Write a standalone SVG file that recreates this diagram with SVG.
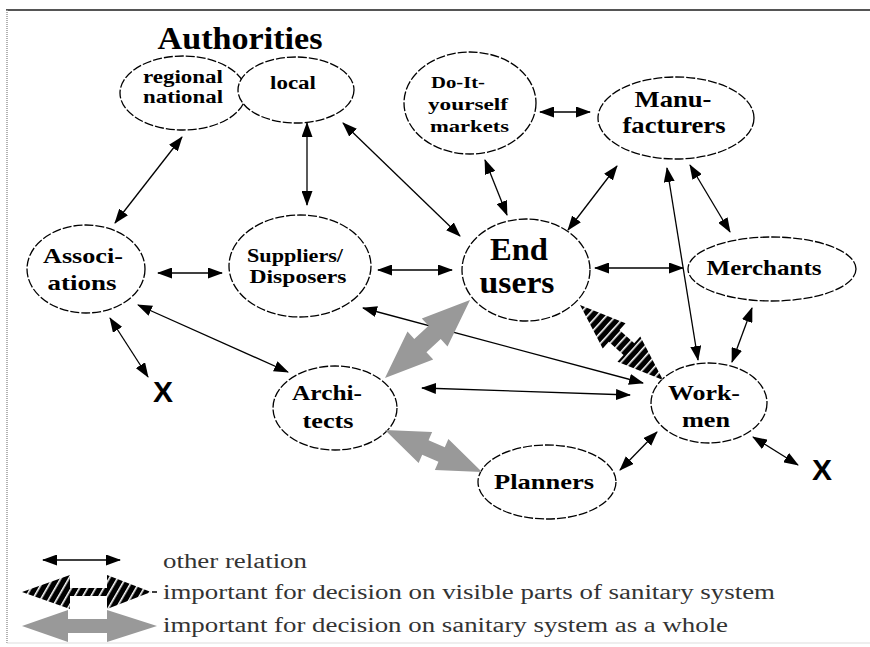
<svg xmlns="http://www.w3.org/2000/svg" width="870" height="647" viewBox="0 0 870 647">
<style>
.node{fill:#fff;stroke:#000;stroke-width:1.3;stroke-dasharray:9 2}
.t{font-family:"Liberation Serif","Times New Roman",serif;font-weight:bold;fill:#000;text-anchor:middle}
.ts{font-family:"Liberation Serif","Times New Roman",serif;font-weight:bold;fill:#000;text-anchor:start}
.lg{font-family:"Liberation Serif","Times New Roman",serif;font-weight:normal;fill:#333;font-size:20px}
.x{font-family:"Liberation Sans",Arial,sans-serif;font-weight:bold;fill:#000;text-anchor:middle;font-size:30px}
.rel{stroke:#000;stroke-width:1.3;fill:none;marker-start:url(#ah);marker-end:url(#ah)}
.gray{fill:#999}
.hatch{fill:url(#stripes)}
</style>
<defs>
<marker id="ah" markerUnits="userSpaceOnUse" markerWidth="15" markerHeight="11" refX="14" refY="5.5" orient="auto-start-reverse">
<path d="M0,0 L15,5.5 L0,11 z" fill="#000"/>
</marker>
<pattern id="stripes" patternUnits="userSpaceOnUse" width="7" height="10">
<rect width="7" height="10" fill="#000"/>
<rect x="5" width="1.6" height="10" fill="#fff"/>
</pattern>
<pattern id="stripes2" patternUnits="userSpaceOnUse" width="7" height="10" patternTransform="rotate(30)">
<rect width="7" height="10" fill="#000"/>
<rect x="5" width="1.6" height="10" fill="#fff"/>
</pattern>
</defs>

<rect width="870" height="647" fill="#fff"/>
<g id="frame">
<line x1="6" y1="10" x2="870" y2="10" stroke="#555" stroke-width="2"/>
<line x1="7" y1="10" x2="7" y2="643" stroke="#999" stroke-width="1.5" stroke-dasharray="1 1"/>
<line x1="7" y1="643" x2="870" y2="643" stroke="#ddd" stroke-width="1"/>
</g>

<g id="authorities">
<text class="t" x="240" y="49" font-size="31" textLength="165" lengthAdjust="spacingAndGlyphs">Authorities</text>
</g>
<g id="regional">
<ellipse class="node" cx="183" cy="93" rx="63" ry="37"/>
<text class="t" x="183" y="83" font-size="18" textLength="80" lengthAdjust="spacingAndGlyphs">regional</text>
<text class="t" x="183" y="103" font-size="18" textLength="80" lengthAdjust="spacingAndGlyphs">national</text>
</g>
<g id="local">
<ellipse class="node" cx="296" cy="90" rx="58" ry="33"/>
<text class="t" x="293" y="89" font-size="18" textLength="46" lengthAdjust="spacingAndGlyphs">local</text>
</g>
<g id="diy">
<ellipse class="node" cx="470" cy="103" rx="66" ry="51"/>
<text class="ts" x="431" y="88" font-size="17" textLength="54" lengthAdjust="spacingAndGlyphs">Do-It-</text>
<text class="ts" x="428" y="110" font-size="17" textLength="80" lengthAdjust="spacingAndGlyphs">yourself</text>
<text class="ts" x="430" y="132" font-size="17" textLength="79" lengthAdjust="spacingAndGlyphs">markets</text>
</g>
<g id="manufacturers">
<ellipse class="node" cx="676" cy="118" rx="78" ry="41"/>
<text class="t" x="673" y="107" font-size="24" textLength="77" lengthAdjust="spacingAndGlyphs">Manu-</text>
<text class="t" x="674" y="133" font-size="24" textLength="103" lengthAdjust="spacingAndGlyphs">facturers</text>
</g>
<g id="merchants">
<ellipse class="node" cx="772" cy="269" rx="84" ry="32"/>
<text class="t" x="764" y="275" font-size="21" textLength="115" lengthAdjust="spacingAndGlyphs">Merchants</text>
</g>
<g id="endusers">
<ellipse class="node" cx="526" cy="270" rx="64" ry="51"/>
<text class="t" x="519" y="260" font-size="32" textLength="58" lengthAdjust="spacingAndGlyphs">End</text>
<text class="t" x="517" y="293" font-size="32" textLength="75" lengthAdjust="spacingAndGlyphs">users</text>
</g>
<g id="suppliers">
<ellipse class="node" cx="300" cy="266" rx="71" ry="51"/>
<text class="t" x="295" y="262" font-size="18" textLength="96" lengthAdjust="spacingAndGlyphs">Suppliers/</text>
<text class="t" x="298" y="283" font-size="18" textLength="97" lengthAdjust="spacingAndGlyphs">Disposers</text>
</g>
<g id="associations">
<ellipse class="node" cx="86" cy="269" rx="59" ry="44"/>
<text class="t" x="83" y="263" font-size="21" textLength="80" lengthAdjust="spacingAndGlyphs">Associ-</text>
<text class="t" x="82" y="290" font-size="21" textLength="69" lengthAdjust="spacingAndGlyphs">ations</text>
</g>
<g id="architects">
<ellipse class="node" cx="335" cy="408" rx="62" ry="42"/>
<text class="t" x="327" y="400" font-size="21" textLength="70" lengthAdjust="spacingAndGlyphs">Archi-</text>
<text class="t" x="328" y="428" font-size="21" textLength="51" lengthAdjust="spacingAndGlyphs">tects</text>
</g>
<g id="workmen">
<ellipse class="node" cx="709" cy="403" rx="58" ry="40"/>
<text class="t" x="704" y="400" font-size="21" textLength="72" lengthAdjust="spacingAndGlyphs">Work-</text>
<text class="t" x="706" y="427" font-size="21" textLength="48" lengthAdjust="spacingAndGlyphs">men</text>
</g>
<g id="planners">
<ellipse class="node" cx="547" cy="482" rx="69" ry="37"/>
<text class="t" x="544" y="489" font-size="21" textLength="100" lengthAdjust="spacingAndGlyphs">Planners</text>
</g>
<g id="x1"><text class="x" x="163" y="402">X</text></g>
<g id="x2"><text class="x" x="822" y="480">X</text></g>

<g id="connectors">
<line class="rel" x1="182" y1="137" x2="115" y2="223"/>
<line class="rel" x1="307" y1="123" x2="307" y2="205"/>
<line class="rel" x1="343" y1="123" x2="460" y2="236"/>
<line class="rel" x1="158" y1="273" x2="222" y2="273"/>
<line class="rel" x1="378" y1="270" x2="452" y2="270"/>
<line class="rel" x1="540" y1="112" x2="590" y2="112"/>
<line class="rel" x1="485" y1="160" x2="507" y2="215"/>
<line class="rel" x1="617" y1="166" x2="568" y2="230"/>
<line class="rel" x1="595" y1="268" x2="683" y2="268"/>
<line class="rel" x1="690" y1="165" x2="730" y2="232"/>
<line class="rel" x1="667" y1="168" x2="698" y2="360"/>
<line class="rel" x1="752" y1="308" x2="732" y2="362"/>
<line class="rel" x1="110" y1="318" x2="148" y2="377"/>
<line class="rel" x1="138" y1="305" x2="288" y2="372"/>
<line class="rel" x1="363" y1="308" x2="643" y2="383"/>
<line class="rel" x1="422" y1="388" x2="630" y2="395"/>
<line class="rel" x1="657" y1="432" x2="620" y2="470"/>
<line class="rel" x1="753" y1="437" x2="798" y2="465"/>
<polygon class="gray" transform="translate(385,378) rotate(-42.54)" points="0,0 48,-19 48,-9 67.4,-9 67.4,-19 115.4,0 67.4,19 67.4,9 48,9 48,19"/>
<polygon class="gray" transform="translate(385,430) rotate(23.41)" points="0,0 44,-17 44,-8 61.7,-8 61.7,-17 105.7,0 61.7,17 61.7,8 44,8 44,17"/>
<polygon class="hatch" transform="translate(580,305) rotate(42.1)" points="0,0 46,-17 46,-8 65.9,-8 65.9,-17 111.9,0 65.9,17 65.9,8 46,8 46,17"/>
</g>

<g id="legend">
<line class="rel" x1="43" y1="560" x2="120" y2="560"/>
<text class="lg" x="163" y="568" textLength="144" lengthAdjust="spacingAndGlyphs">other relation</text>
<polygon fill="url(#stripes2)" points="22,592 70,575 70,588 107,588 107,575 151,592 107,609 107,596 70,596 70,609"/>
<line x1="152" y1="592" x2="157" y2="592" stroke="#000" stroke-width="1.5"/>
<text class="lg" x="163" y="599" textLength="612" lengthAdjust="spacingAndGlyphs">important for decision on visible parts of sanitary system</text>
<polygon class="gray" points="22,626 68,610 68,619 107,619 107,610 157,626 107,642 107,633 68,633 68,642"/>
<text class="lg" x="163" y="632" textLength="565" lengthAdjust="spacingAndGlyphs">important for decision on sanitary system as a whole</text>
</g>
</svg>
